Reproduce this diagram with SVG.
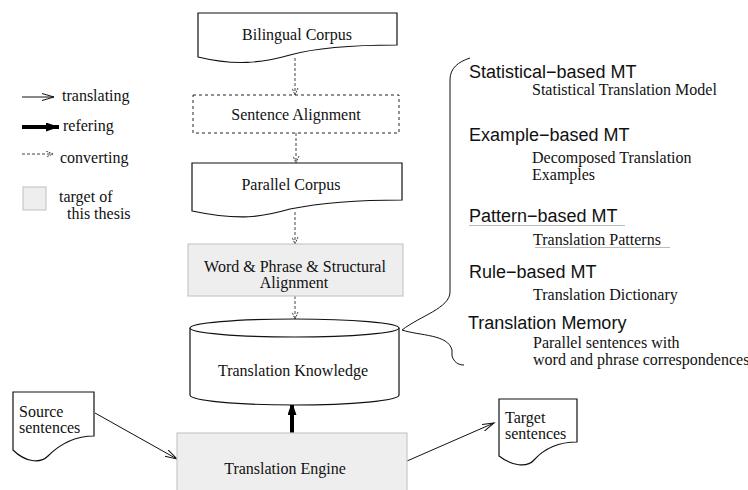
<svg xmlns="http://www.w3.org/2000/svg" width="748" height="490" viewBox="0 0 748 490">
  <style>
    .serif { font-family: "Liberation Serif", "Times New Roman", serif; font-size: 16px; fill: #111; }
    .sans { font-family: "Liberation Sans", Arial, sans-serif; font-size: 18px; fill: #111; }
    .mid { text-anchor: middle; }
    .outline { fill: #fff; stroke: #111; stroke-width: 1.2; }
    .target { fill: #eeeeee; stroke: #c8c8c8; stroke-width: 1.2; }
    .dashbox { fill: #fff; stroke: #222; stroke-width: 1; stroke-dasharray: 3 3; }
    .thin { fill: none; stroke: #111; stroke-width: 1; }
    .thick { fill: none; stroke: #000; stroke-width: 4; }
    .conv { fill: none; stroke: #444; stroke-width: 1; stroke-dasharray: 3 2; }
    .rule { stroke: #bbb; stroke-width: 1; }
  </style>
  <defs>
    <marker id="open" markerUnits="userSpaceOnUse" markerWidth="14" markerHeight="10" refX="12" refY="4" orient="auto">
      <path d="M0,0.5 L12,4 L0,7.5" fill="none" stroke="#111" stroke-width="1"/>
    </marker>
    <marker id="solid" markerUnits="userSpaceOnUse" markerWidth="14" markerHeight="10" refX="13" refY="4.5" orient="auto">
      <path d="M0,0 L13,4.5 L0,9 Z" fill="#000"/>
    </marker>
    <marker id="small" markerUnits="userSpaceOnUse" markerWidth="8" markerHeight="8" refX="7" refY="3.5" orient="auto">
      <path d="M0,0.5 L7,3.5 L0,6.5" fill="none" stroke="#444" stroke-width="1" stroke-dasharray="2 1"/>
    </marker>
  </defs>

  <!-- legend -->
  <g id="legend">
    <line x1="22" y1="97" x2="54" y2="97" class="thin" marker-end="url(#open)"/>
    <text x="62" y="101" class="serif">translating</text>
    <line x1="22" y1="127" x2="59" y2="127" class="thick" marker-end="url(#solid)"/>
    <text x="63" y="131" class="serif">refering</text>
    <line x1="22" y1="154" x2="53" y2="154" class="conv" marker-end="url(#small)"/>
    <text x="60" y="163" class="serif">converting</text>
    <rect x="23" y="187" width="23" height="23" class="target"/>
    <text x="59" y="202" class="serif">target of</text>
    <text x="67" y="219" class="serif">this thesis</text>
  </g>

  <!-- connectors -->
  <g id="connectors">
    <line x1="295" y1="58" x2="295" y2="95" class="conv" marker-end="url(#small)"/>
    <line x1="296" y1="133" x2="296" y2="163" class="conv" marker-end="url(#small)"/>
    <line x1="295" y1="212" x2="295" y2="244" class="conv" marker-end="url(#small)"/>
    <line x1="295" y1="296" x2="295" y2="319" class="conv" marker-end="url(#small)"/>
    <line x1="292" y1="433" x2="292" y2="402" class="thick" marker-end="url(#solid)"/>
    <line x1="95" y1="413" x2="177" y2="459" class="thin" marker-end="url(#open)"/>
    <line x1="407" y1="461" x2="494" y2="423" class="thin" marker-end="url(#open)"/>
  </g>

  <g id="bilingual-corpus">
    <path d="M198,13 H397 V45 C345,45 315,48 290,55 C262,63 235,66 198,57 Z" class="outline"/>
    <text x="297" y="40" class="serif mid">Bilingual Corpus</text>
  </g>

  <g id="sentence-alignment">
    <rect x="193" y="95" width="206" height="38" class="dashbox"/>
    <text x="296" y="120" class="serif mid">Sentence Alignment</text>
  </g>

  <g id="parallel-corpus">
    <path d="M192,163 H402 V200 C350,200 320,203 290,209 C262,217 240,221 192,211 Z" class="outline"/>
    <text x="291" y="190" class="serif mid">Parallel Corpus</text>
  </g>

  <g id="word-phrase-alignment">
    <rect x="188" y="244" width="215" height="52" class="target"/>
    <text x="295" y="272" class="serif mid">Word &amp; Phrase &amp; Structural</text>
    <text x="294" y="288" class="serif mid">Alignment</text>
  </g>

  <g id="translation-knowledge">
    <path d="M190,328 V395 A104.5,10 0 0 0 399,395 V328" class="outline"/>
    <ellipse cx="294.5" cy="328" rx="104.5" ry="9" class="outline"/>
    <text x="293" y="376" class="serif mid">Translation Knowledge</text>
  </g>

  <g id="translation-engine">
    <rect x="177" y="433" width="230" height="62" class="target"/>
    <text x="285" y="474" class="serif mid">Translation Engine</text>
  </g>

  <g id="source-sentences">
    <path d="M13,392 H94 V436 C72,436 58,446 48,456 C40,464 25,462 13,450 Z" class="outline"/>
    <text x="19" y="417" class="serif">Source</text>
    <text x="19" y="433" class="serif">sentences</text>
  </g>

  <g id="target-sentences">
    <path d="M499,399 H577 V442 C556,442 543,450 534,460 C527,468 512,466 499,456 Z" class="outline"/>
    <text x="505" y="423" class="serif">Target</text>
    <text x="505" y="439" class="serif">sentences</text>
  </g>

  <!-- brace grouping the kinds of translation knowledge -->
  <g id="mt-types">
    <path d="M470,58 C458,62 450,68 450,80 V292 C450,308 420,316 402,330 C420,336 448,334 452,350 V356 C454,362 458,365 464,365" class="thin" stroke-width="1.2"/>
    <text x="469" y="78" class="sans">Statistical−based MT</text>
    <text x="532" y="95" class="serif">Statistical Translation Model</text>
    <text x="469" y="141" class="sans">Example−based MT</text>
    <text x="532" y="163" class="serif">Decomposed Translation</text>
    <text x="532" y="180" class="serif">Examples</text>
    <text x="469" y="222" class="sans">Pattern−based MT</text>
    <line x1="469" y1="225.5" x2="625" y2="225.5" class="rule"/>
    <text x="533" y="245" class="serif">Translation Patterns</text>
    <line x1="535" y1="247.5" x2="670" y2="247.5" class="rule"/>
    <text x="469" y="278" class="sans">Rule−based MT</text>
    <text x="533" y="300" class="serif">Translation Dictionary</text>
    <text x="468" y="329" class="sans">Translation Memory</text>
    <text x="533" y="348" class="serif">Parallel sentences with</text>
    <text x="533" y="365" class="serif">word and phrase correspondences</text>
  </g>
</svg>
